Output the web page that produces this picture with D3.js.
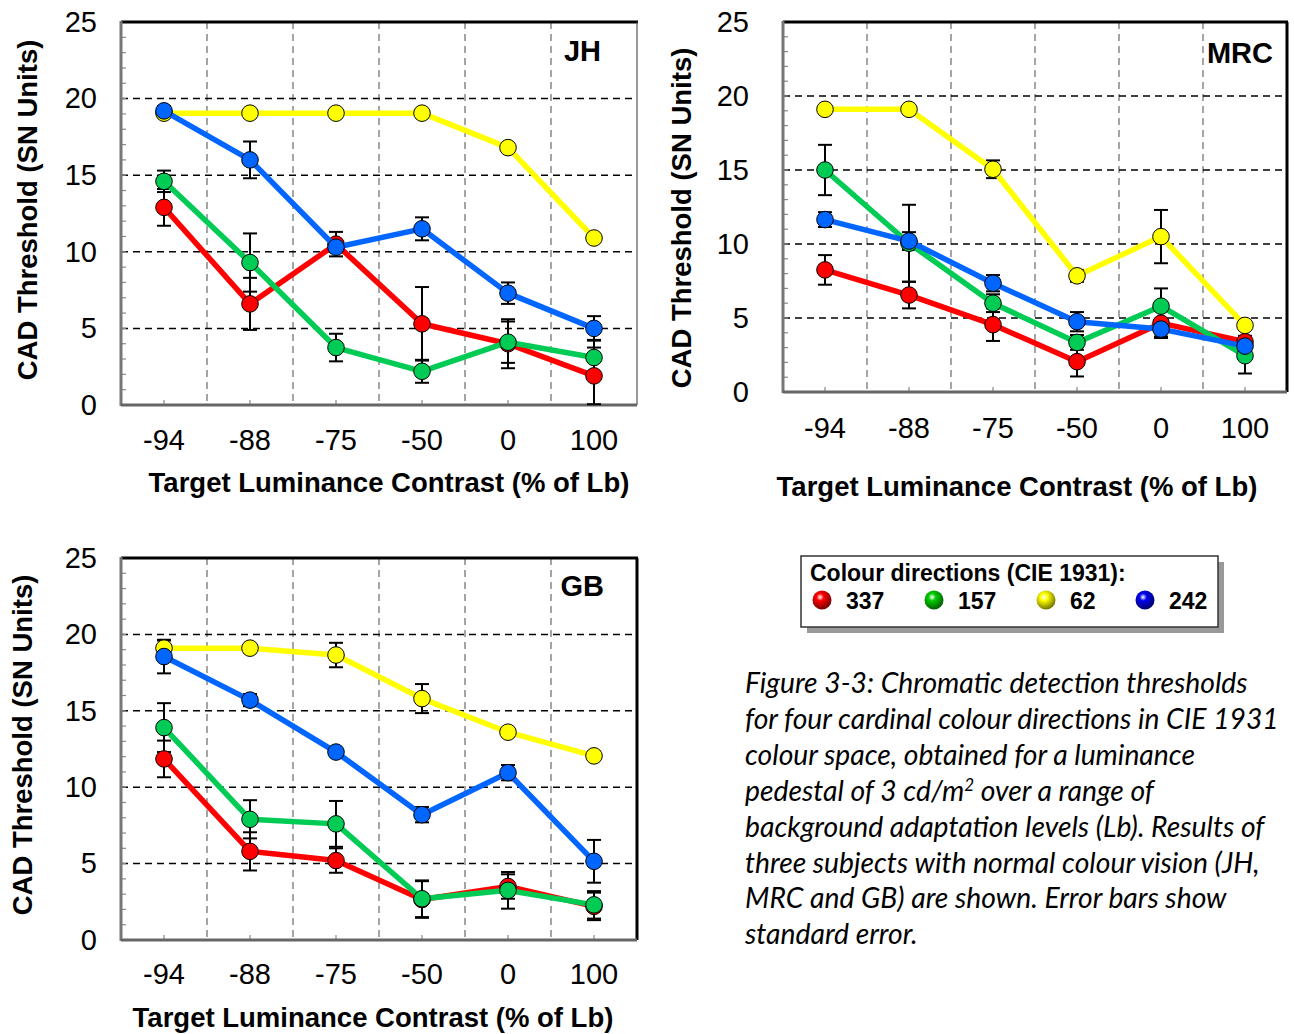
<!DOCTYPE html>
<html lang="en">
<head>
<meta charset="UTF-8">
<title>CAD thresholds</title>
<script src="https://d3js.org/d3.v7.min.js"></script>
<style>
  body { margin: 0; background: #fff; }
  text.sans { font-family: "Liberation Sans", Arial, sans-serif; }
</style>
</head>
<body>
<script>
// categories and tick labels
var categories = ["-94", "-88", "-75", "-50", "0", "100"];
var yTicks = [0, 5, 10, 15, 20, 25];
var directions = ["337", "157", "62", "242"];
var dirColors = ["#ff0000", "#00cc55", "#ffff00", "#0066ff"];
var legendColors = ["#ff0000", "#00cc00", "#ffff00", "#0000ee"];

// subject JH
var jh337 = [12.9, 6.6, 10.5, 5.3, 4.0, 1.9];
var jh337Err = [1.2, 1.7, 0.8, 2.4, 1.6, 1.85];
var jh157 = [14.6, 9.3, 3.75, 2.2, 4.1, 3.1];
var jh157Err = [0.7, 1.9, 0.9, 0.75, 1.35, 1.15];
var jh62 = [19.05, 19.05, 19.05, 19.05, 16.8, 10.9];
var jh62Err = [0, 0, 0, 0, 0, 0];
var jh242 = [19.2, 16.0, 10.3, 11.5, 7.3, 5.0];
var jh242Err = [0.3, 1.2, 0.3, 0.75, 0.7, 0.8];

// subject MRC
var mrc337 = [8.25, 6.55, 4.55, 2.05, 4.65, 3.4];
var mrc337Err = [1.0, 0.9, 1.1, 1.0, 1.0, 0.4];
var mrc157 = [15.0, 10.05, 6.0, 3.35, 5.8, 2.45];
var mrc157Err = [1.7, 2.6, 0.6, 0.5, 1.2, 1.2];
var mrc62 = [19.1, 19.1, 15.05, 7.85, 10.5, 4.5];
var mrc62Err = [0, 0, 0.6, 0.4, 1.8, 0];
var mrc242 = [11.65, 10.2, 7.35, 4.75, 4.25, 3.1];
var mrc242Err = [0.5, 0.6, 0.55, 0.65, 0.5, 0.3];

// subject GB
var gb337 = [11.85, 5.8, 5.2, 2.65, 3.5, 2.2];
var gb337Err = [1.2, 1.25, 0.8, 1.2, 0.8, 0.9];
var gb157 = [13.9, 7.9, 7.6, 2.7, 3.25, 2.3];
var gb157Err = [1.6, 1.25, 1.5, 1.2, 1.2, 0.9];
var gb62 = [19.1, 19.1, 18.65, 15.8, 13.6, 12.05];
var gb62Err = [0.5, 0, 0.8, 0.95, 0, 0];
var gb242 = [18.55, 15.7, 12.3, 8.2, 10.95, 5.15];
var gb242Err = [1.1, 0.4, 0.2, 0.5, 0.5, 1.4];

var width = 1294;
var height = 1034;

var svg = d3.select("body")
    .append("svg")
    .attr("width", width)
    .attr("height", height);

var panels = [
    { name: "JH", x0: 121, x1: 637, y0: 22, y1: 405, labelGap: 24, titleX: 27, titleY: 210,
      xLabY: 450, xTitleX: 389, xTitleY: 492, nameDx: 36, nameY: 61, thinRight: true,
      values: [jh337, jh157, jh62, jh242], errors: [jh337Err, jh157Err, jh62Err, jh242Err] },
    { name: "MRC", x0: 783, x1: 1287, y0: 22, y1: 392, labelGap: 34, titleX: 681, titleY: 218,
      xLabY: 438, xTitleX: 1017, xTitleY: 496, nameDx: 14, nameY: 63, thinRight: false,
      values: [mrc337, mrc157, mrc62, mrc242], errors: [mrc337Err, mrc157Err, mrc62Err, mrc242Err] },
    { name: "GB", x0: 121, x1: 637, y0: 558, y1: 940, labelGap: 24, titleX: 22, titleY: 745,
      xLabY: 984, xTitleX: 373, xTitleY: 1027, nameDx: 33, nameY: 596, thinRight: false,
      values: [gb337, gb157, gb62, gb242], errors: [gb337Err, gb157Err, gb62Err, gb242Err] }
];

panels.forEach(function (p) {
    var g = svg.append("g");
    var x = d3.scaleBand().domain(categories).range([p.x0, p.x1]);
    var y = d3.scaleLinear().domain([0, 25]).range([p.y1, p.y0]);
    var cx = function (i) { return x(categories[i]) + x.bandwidth() / 2; };

    // vertical grid at band edges
    g.selectAll("line.vgrid")
        .data(categories.slice(1))
        .enter().append("line")
        .attr("x1", function (d) { return x(d); })
        .attr("x2", function (d) { return x(d); })
        .attr("y1", p.y0).attr("y2", p.y1)
        .attr("stroke", "#888").attr("stroke-width", 1.5)
        .attr("stroke-dasharray", "7,5");

    // horizontal grid
    g.selectAll("line.hgrid")
        .data(yTicks.slice(1, -1))
        .enter().append("line")
        .attr("x1", p.x0).attr("x2", p.x1)
        .attr("y1", function (d) { return y(d); })
        .attr("y2", function (d) { return y(d); })
        .attr("stroke", "#000").attr("stroke-width", 1.5)
        .attr("stroke-dasharray", "7,5");

    // minor ticks on left
    g.selectAll("line.minor")
        .data(d3.range(1, 25))
        .enter().append("line")
        .attr("x1", p.x0).attr("x2", p.x0 + 5)
        .attr("y1", function (d) { return y(d); })
        .attr("y2", function (d) { return y(d); })
        .attr("stroke", "#888").attr("stroke-width", 1.2);

    // ticks on bottom at category centres
    g.selectAll("line.xtick")
        .data(categories)
        .enter().append("line")
        .attr("x1", function (d, i) { return cx(i); })
        .attr("x2", function (d, i) { return cx(i); })
        .attr("y1", p.y1).attr("y2", p.y1 - 5)
        .attr("stroke", "#888").attr("stroke-width", 1.2);

    // frame
    g.append("line").attr("x1", p.x0).attr("x2", p.x1 + 1).attr("y1", p.y0).attr("y2", p.y0)
        .attr("stroke", "#000").attr("stroke-width", 3);
    g.append("line").attr("x1", p.x1).attr("x2", p.x1).attr("y1", p.y0).attr("y2", p.y1)
        .attr("stroke", p.thinRight ? "#555" : "#000").attr("stroke-width", p.thinRight ? 1.2 : 3);
    g.append("line").attr("x1", p.x0).attr("x2", p.x0).attr("y1", p.y0 - 1).attr("y2", p.y1 + 1)
        .attr("stroke", "#777").attr("stroke-width", 3);
    g.append("line").attr("x1", p.x0).attr("x2", p.x1).attr("y1", p.y1).attr("y2", p.y1)
        .attr("stroke", "#666").attr("stroke-width", 3);

    // y tick labels
    var yAxis = g.append("g")
        .attr("transform", "translate(" + p.x0 + ",0)")
        .call(d3.axisLeft(y).tickValues(yTicks).tickSize(0).tickPadding(p.labelGap));
    yAxis.select(".domain").remove();
    yAxis.selectAll("text")
        .attr("class", "sans")
        .attr("font-size", 29)
        .attr("fill", "#000");

    // x tick labels
    g.selectAll("text.xlab")
        .data(categories)
        .enter().append("text")
        .attr("class", "sans")
        .attr("x", function (d, i) { return cx(i); })
        .attr("y", p.xLabY)
        .attr("text-anchor", "middle")
        .attr("font-size", 29)
        .text(function (d) { return d; });

    // axis titles
    g.append("text")
        .attr("class", "sans")
        .attr("x", p.xTitleX)
        .attr("y", p.xTitleY)
        .attr("text-anchor", "middle")
        .attr("font-size", 27.5).attr("font-weight", "bold")
        .text("Target Luminance Contrast (% of Lb)");
    g.append("text")
        .attr("class", "sans")
        .attr("transform", "translate(" + (p.titleX + 10) + "," + p.titleY + ") rotate(-90)")
        .attr("text-anchor", "middle")
        .attr("font-size", 27.5).attr("font-weight", "bold")
        .text("CAD Threshold (SN Units)");

    // subject label
    g.append("text")
        .attr("class", "sans")
        .attr("x", p.x1 - p.nameDx).attr("y", p.nameY)
        .attr("text-anchor", "end")
        .attr("font-size", 29).attr("font-weight", "bold")
        .text(p.name);

    // error bars
    p.values.forEach(function (vals, s) {
        vals.forEach(function (v, i) {
            var e = p.errors[s][i];
            if (!e) return;
            var lo = Math.max(0, v - e), hi = v + e;
            var xc = cx(i);
            g.append("line").attr("x1", xc).attr("x2", xc).attr("y1", y(lo)).attr("y2", y(hi))
                .attr("stroke", "#000").attr("stroke-width", 2);
            [lo, hi].forEach(function (b) {
                g.append("line").attr("x1", xc - 7).attr("x2", xc + 7).attr("y1", y(b)).attr("y2", y(b))
                    .attr("stroke", "#000").attr("stroke-width", 2);
            });
        });
    });

    // lines and markers
    var line = d3.line()
        .x(function (d, i) { return cx(i); })
        .y(function (d) { return y(d); });
    p.values.forEach(function (vals, s) {
        g.append("path")
            .attr("d", line(vals))
            .attr("fill", "none")
            .attr("stroke", dirColors[s])
            .attr("stroke-width", 5.5)
            .attr("stroke-linejoin", "round");
        g.selectAll("circle.s" + s)
            .data(vals)
            .enter().append("circle")
            .attr("cx", function (d, i) { return cx(i); })
            .attr("cy", function (d) { return y(d); })
            .attr("r", 8.3)
            .attr("fill", dirColors[s])
            .attr("stroke", "#000")
            .attr("stroke-width", 1);
    });
});

// legend
var defs = svg.append("defs");
legendColors.forEach(function (c, i) {
    var grad = defs.append("radialGradient")
        .attr("id", "ball" + i)
        .attr("cx", "40%").attr("cy", "35%").attr("r", "65%");
    grad.append("stop").attr("offset", "0%").attr("stop-color", "#fff");
    grad.append("stop").attr("offset", "30%").attr("stop-color", c);
    grad.append("stop").attr("offset", "100%").attr("stop-color", d3.color(c).darker(2.2));
});

var lg = svg.append("g");
lg.append("rect").attr("x", 807).attr("y", 562).attr("width", 417).attr("height", 71).attr("fill", "#999");
lg.append("rect").attr("x", 801).attr("y", 556).attr("width", 417).attr("height", 71)
    .attr("fill", "#fff").attr("stroke", "#333").attr("stroke-width", 1.5);
lg.append("text").attr("class", "sans").attr("x", 810).attr("y", 581)
    .attr("font-size", 23).attr("font-weight", "bold")
    .text("Colour directions (CIE 1931):");
var legendX = [822, 934, 1046, 1145];
directions.forEach(function (d, i) {
    lg.append("circle").attr("cx", legendX[i]).attr("cy", 600).attr("r", 9.5)
        .attr("fill", "url(#ball" + i + ")");
    lg.append("text").attr("class", "sans").attr("x", legendX[i] + 24).attr("y", 609)
        .attr("font-size", 23).attr("font-weight", "bold")
        .text(d);
});

// caption
var captionLines = [
    "Figure 3-3: Chromatic detection thresholds",
    "for four cardinal colour directions in CIE 1931",
    "colour space, obtained for a luminance",
    "pedestal of 3 cd/m|2| over a range of",
    "background adaptation levels (Lb). Results of",
    "three subjects with normal colour vision (JH,",
    "MRC and GB) are shown. Error bars show",
    "standard error."
];
var cap = svg.append("text")
    .style("font-family", "Lato, 'Open Sans', sans-serif")
    .style("font-style", "italic")
    .style("font-size", "23px")
    .attr("fill", "#000");
var capTspans = [];
captionLines.forEach(function (l, i) {
    var t = cap.append("tspan").attr("x", 745).attr("y", 693 + i * 35.9);
    var parts = l.split("|");
    if (parts.length === 1) {
        t.text(l);
    } else {
        t.append("tspan").text(parts[0]);
        t.append("tspan").style("font-size", "0.6em").attr("dy", -10).text(parts[1]);
        t.append("tspan").attr("dy", 10).text(parts[2]);
    }
    capTspans.push(t);
});
// fit caption so its second line spans the same width as in the figure
var w2 = capTspans[1].node().getComputedTextLength();
if (w2 > 0) cap.style("font-size", (23 * 534 / w2).toFixed(2) + "px");
</script>
</body>
</html>
